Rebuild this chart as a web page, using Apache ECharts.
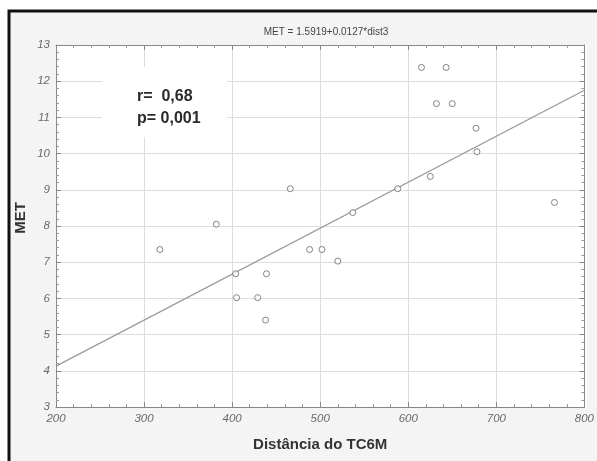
<!DOCTYPE html>
<html><head><meta charset="utf-8">
<script src="https://cdn.jsdelivr.net/npm/echarts@6/dist/echarts.min.js"></script>
<style>html,body{margin:0;padding:0;background:#fff}#c{width:597px;height:461px}</style>
</head><body><div id="c"></div>
<script>
const distancia = [318, 382, 466, 404, 439, 405, 429, 488, 502, 520, 537, 588, 625, 678, 766, 615, 643, 632, 650, 677, 438];
const met       = [7.35, 8.05, 9.03, 6.68, 6.68, 6.02, 6.02, 7.35, 7.35, 7.03, 8.37, 9.03, 9.37, 10.05, 8.65, 12.38, 12.38, 11.38, 11.38, 10.7, 5.4];
const fitX = [200, 800];
const fitY = [4.13, 11.75];
const xTicks = [200, 300, 400, 500, 600, 700, 800];
const yTicks = [3, 4, 5, 6, 7, 8, 9, 10, 11, 12, 13];
const titleText = 'MET = 1.5919+0.0127*dist3';
const statR = 'r=  0,68';
const statP = 'p= 0,001';
const yName = 'MET';
const xName = 'Distância do TC6M';

const chart = echarts.init(document.getElementById('c'));
const tickFont = {fontFamily: '"Liberation Sans Narrow","Liberation Sans",Arial', fontStyle: 'italic', fontSize: 11.5, color: '#6a6a6a'};
const axisBase = {
  axisLine: {show: true, lineStyle: {color: '#888', width: 1}},
  axisTick: {show: true, inside: true, length: 5, lineStyle: {color: '#888'}},
  minorTick: {show: true, splitNumber: 5, length: 3, lineStyle: {color: '#999'}},
};
chart.setOption({
  animation: false,
  backgroundColor: '#fff',
  graphic: [
    {type: 'rect', z: -10, shape: {x: 9, y: 11, width: 600, height: 460}, style: {fill: '#f4f4f4', stroke: '#111', lineWidth: 3}},
    {type: 'rect', z: -9, shape: {x: 56, y: 45, width: 531, height: 362}, style: {fill: '#fff'}},
    {type: 'rect', z: 1, shape: {x: 102, y: 67, width: 125, height: 70}, style: {fill: '#fff'}},
    {type: 'text', z: 5, left: 137, top: 89, style: {text: statR, font: 'bold 16px "Liberation Sans",Arial', fill: '#2a2a2a'}},
    {type: 'text', z: 5, left: 137, top: 111, style: {text: statP, font: 'bold 16px "Liberation Sans",Arial', fill: '#2a2a2a'}},
    {type: 'text', z: 5, x: 21, y: 218, rotation: Math.PI / 2, style: {text: yName, font: 'bold 15px "Liberation Sans",Arial', fill: '#333', align: 'center', verticalAlign: 'middle'}}
  ],
  title: {text: titleText, left: 321, top: 22, textAlign: 'center',
    textStyle: {fontSize: 10, fontWeight: 'normal', color: '#444', fontFamily: '"Liberation Sans Narrow","Liberation Sans",Arial'}},
  grid: {left: 56, right: 10, top: 45, bottom: 54},
  xAxis: [
    Object.assign({type: 'value', min: 200, max: 800, interval: 100,
      name: xName, nameLocation: 'middle', nameGap: 30,
      nameTextStyle: {fontSize: 15, fontWeight: 'bold', color: '#333', fontFamily: '"Liberation Sans",Arial'},
      axisLabel: Object.assign({margin: 6, formatter: v => xTicks.includes(v) ? String(v) : ''}, tickFont),
      splitLine: {show: true, lineStyle: {color: '#ddd', width: 1}}}, axisBase),
    Object.assign({type: 'value', position: 'top', min: 200, max: 800, interval: 100,
      axisLabel: {show: false}, splitLine: {show: false}}, axisBase)
  ],
  yAxis: [
    Object.assign({type: 'value', min: 3, max: 13, interval: 1,
      axisLabel: Object.assign({margin: 6, formatter: v => yTicks.includes(v) ? String(v) : ''}, tickFont),
      splitLine: {show: true, lineStyle: {color: '#ddd', width: 1}}}, axisBase),
    Object.assign({type: 'value', position: 'right', min: 3, max: 13, interval: 1,
      axisLabel: {show: false}, splitLine: {show: false}}, axisBase)
  ],
  series: [
    {type: 'line', data: fitX.map((x, i) => [x, fitY[i]]), symbol: 'none',
      lineStyle: {color: '#999', width: 1.2}, z: 2},
    {type: 'scatter', data: distancia.map((x, i) => [x, met[i]]), symbol: 'circle', symbolSize: 6,
      itemStyle: {color: '#fff', borderColor: '#666', borderWidth: 1}, z: 3}
  ]
});
</script></body></html>
